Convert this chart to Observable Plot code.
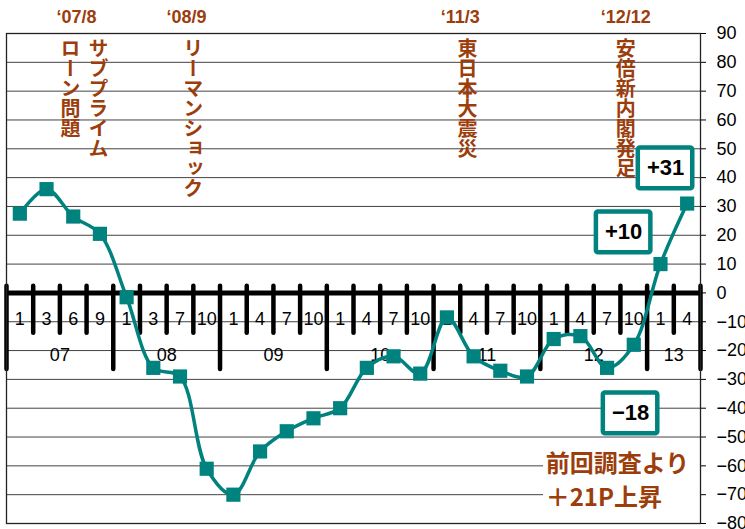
<!DOCTYPE html>
<html><head><meta charset="utf-8">
<script src="https://cdn.jsdelivr.net/npm/d3@7"></script>
<script src="https://cdn.jsdelivr.net/npm/@observablehq/plot@0.6"></script>
<style>body{margin:0;background:#fff} svg{display:block}</style>
</head><body><div id="chart"></div>
<script>
// ---- data ----
const years = ["07","08","09","10","11","12","13"];
const months = ["1","3","6","9","1","3","7","10","1","4","7","10","1","4","7","10","1","4","7","10","1","4","7","10","1","4"];
const values = [27.5,36,26.5,20.5,-1.5,-26,-29,-61,-70,-55,-48,-43.5,-40,-26,-22,-28,-8.5,-22,-27,-29,-16,-15,-26,-18,10,31];
const yTicks = [-80,-70,-60,-50,-40,-30,-20,-10,0,10,20,30,40,50,60,70,80,90];
const eventDates = ["‘07/8","‘08/9","‘11/3","‘12/12"];
const eventDatePos = [2.12, 6.24, 16.5, 22.7];
const eventNames = ["ローン問題","サブプライム","リーマンショック","東日本大震災","安倍新内閣発足"];
const eventNamePos = [1.9, 2.95, 6.5, 16.77, 22.7];
const boxTexts = ["+31","+10","−18"];
const boxX = [24.19, 22.62, 22.88];
const boxY = [43.2, 21, -41.8];
const noteLines = ["前回調査より","＋21P上昇"];

const teal = "#00827F", brown = "#9C3D0C";
const boundaries = d3.range(27);
const isLong = i => i % 4 === 0 || i === 26;
const yearCenters = years.map((d,k)=> k < 6 ? 4*k + 1.5 : 24.5);
const boxes = boxTexts.map((t,i)=>({t, x: boxX[i], y: boxY[i]}));

const chart = Plot.plot({
  width: 745, height: 529,
  marginLeft: 6, marginRight: 45, marginTop: 33, marginBottom: 6,
  style: {fontFamily: "'Liberation Sans','Noto Sans CJK JP',sans-serif", background: "#fff", color: "#000"},
  x: {type: "linear", domain: [-0.5, 25.5], axis: null},
  y: {domain: [-80, 90], axis: null},
  marks: [
    Plot.ruleY(yTicks.filter(d => d !== 0), {stroke: "#222", strokeWidth: 1, strokeOpacity: 0.85}),
    // white block behind note
    Plot.rect([0], {x1: 19.62, x2: 25.5, y1: -54.5, y2: -77, fill: "#fff"}),
    Plot.ruleY([0], {stroke: "#000", strokeWidth: 5}),
    Plot.ruleX(boundaries, {x: i => i - 0.5, y1: 2.3, y2: i => isLong(i) ? -26.6 : -14, stroke: "#000", strokeWidth: 4.5, strokeLinecap: "round"}),
    Plot.text(months, {x: (d,i) => i, y: -9.3, text: d => d, fontSize: 18, fill: "#000"}),
    Plot.text(years, {x: (d,k) => yearCenters[k], y: -21.7, text: d => d, fontSize: 18, fill: "#000"}),
    Plot.frame({stroke: "#222", strokeWidth: 1.3}),
    Plot.axisY({anchor: "right", label: null, ticks: yTicks, tickSize: 5, tickPadding: 11, fontSize: 18, tickFormat: d => d < 0 ? "−" + (-d) : String(d)}),
    Plot.line(values, {x: (d,i) => i, y: d => d, stroke: teal, strokeWidth: 3.5, curve: "catmull-rom"}),
    Plot.dot(values, {x: (d,i) => i, y: d => d, symbol: "square", r: 8, fill: teal, stroke: null}),
    // event dates
    Plot.text(eventDates, {x: (d,i) => eventDatePos[i], y: 95.6, text: d => d, fontSize: 18, fontWeight: "bold", fill: brown}),
    // vertical event names
    Plot.text(eventNames, {x: (d,i) => eventNamePos[i], y: 88.3, text: d => d, fontSize: 20, fontWeight: "bold", fill: brown, textAnchor: "start", lineAnchor: "bottom"}),
    // boxes
    Plot.rect(boxes, {x1: d => d.x - 1.02, x2: d => d.x + 1.02, y1: d => d.y - 7.1, y2: d => d.y + 7.1, fill: "#fff", stroke: teal, strokeWidth: 4.5, rx: 2}),
    Plot.text(boxes, {x: "x", y: "y", text: "t", fontSize: 22, fontWeight: "bold", fill: "#000"}),
    // note
    Plot.text(noteLines, {x: 19.7, y: (d,i) => i === 0 ? -59.5 : -71.3, text: d => d, fontSize: 24, fontWeight: "bold", fill: brown, textAnchor: "start", fontFamily: "'Noto Sans CJK JP',sans-serif"})
  ]
});
d3.select(chart).selectAll("text")
  .filter(function() { return eventNames.includes(this.textContent); })
  .attr("writing-mode", "tb")
  .style("writing-mode", "vertical-rl")
  .attr("font-family", "'Noto Sans CJK JP',sans-serif");
document.getElementById("chart").appendChild(chart);
</script>
</body></html>
